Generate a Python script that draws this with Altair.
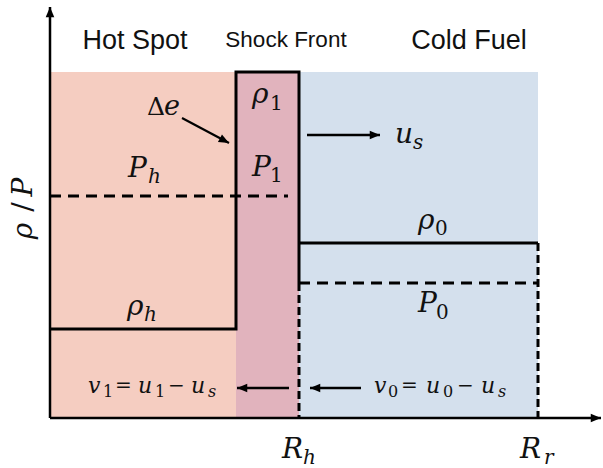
import math
import altair as alt
import pandas as pd

# ---- schematic values (radius r on x, rho / P on y) ----
r_shock_in = 3.72          # inner edge of the shock layer
R_h = 4.98                 # hot-spot radius / shock front
R_r = 9.76                 # outer fuel radius
region_top = 6.92

rho_h, rho_1, rho_0 = 1.78, 6.92, 3.50
P_h, P_0 = 4.44, 2.70
P_h_end = 4.76             # dashed P_h / P_1 level stops just short of R_h

region_names = ["Hot Spot", "Shock Front", "Cold Fuel"]
region_x0 = [0.0, r_shock_in, R_h]
region_x1 = [r_shock_in, R_h, R_r]
region_colors = ["#f5cdc1", "#e1b3bd", "#d4e0ed"]

x_axis_end, y_axis_end = 11.02, 8.22

xs = alt.Scale(domain=[-1, 11.06], range=[0, 603], nice=False, zero=False)
ys = alt.Scale(domain=[-1, 8.36], range=[468, 0], nice=False, zero=False)


def X(f="x"):
    return alt.X(f"{f}:Q", scale=xs, axis=None)


def Y(f="y"):
    return alt.Y(f"{f}:Q", scale=ys, axis=None)


# ---- shaded regions ----
regions = pd.DataFrame({
    "name": region_names, "x": region_x0, "x2": region_x1,
    "y": [0.0] * 3, "y2": [region_top] * 3,
})
fills = alt.Chart(regions).mark_rect(strokeWidth=0).encode(
    x=X(), x2="x2:Q", y=Y(), y2="y2:Q",
    color=alt.Color("name:N", scale=alt.Scale(domain=region_names, range=region_colors), legend=None),
)

# ---- density profile (solid step) ----
step = pd.DataFrame({
    "x": [0.0, r_shock_in, r_shock_in, R_h, R_h],
    "y": [rho_h, rho_h, rho_1, rho_1, P_0],
    "o": list(range(5)),
})
step_line = alt.Chart(step).mark_line(color="black", strokeWidth=3, strokeJoin="miter").encode(
    x=X(), y=Y(), order="o:O"
)

solid_segs = pd.DataFrame({"x": [R_h], "y": [rho_0], "x2": [R_r], "y2": [rho_0]})
solid_rules = alt.Chart(solid_segs).mark_rule(color="black", strokeWidth=3).encode(
    x=X(), y=Y(), x2="x2:Q", y2="y2:Q"
)

# ---- pressure levels (dashed) ----
dash_h = pd.DataFrame({"x": [0.0, R_h], "y": [P_h, P_0], "x2": [P_h_end, R_r], "y2": [P_h, P_0]})
dash_h_rules = alt.Chart(dash_h).mark_rule(color="black", strokeWidth=3, strokeDash=[11, 7]).encode(
    x=X(), y=Y(), x2="x2:Q", y2="y2:Q"
)
dash_v = pd.DataFrame({"x": [R_h, R_r], "y": [P_0, rho_0], "x2": [R_h, R_r], "y2": [0.0, 0.0]})
dash_v_rules = alt.Chart(dash_v).mark_rule(color="black", strokeWidth=3, strokeDash=[8, 4]).encode(
    x=X(), y=Y(), x2="x2:Q", y2="y2:Q"
)

# ---- arrows: axes, delta-e pointer, shock speed, flow velocities ----
arrows = pd.DataFrame({
    "name": ["x-axis", "y-axis", "de", "us", "v1", "v0"],
    "x":  [0.0, 0.0, 2.64, 5.14, 4.78, 6.22],
    "y":  [0.0, 0.0, 6.00, 5.66, 0.60, 0.60],
    "x2": [x_axis_end, 0.0, 3.58, 6.60, 3.74, 5.20],
    "y2": [0.0, y_axis_end, 5.50, 5.66, 0.60, 0.60],
    "w":  [2.5, 2.5, 2.2, 2.5, 2.5, 2.5],
})
arrows["ang"] = [
    math.degrees(math.atan2(x2 - x1, y2 - y1)) % 360
    for x1, y1, x2, y2 in zip(arrows.x, arrows.y, arrows.x2, arrows.y2)
]
arrow_lines = alt.Chart(arrows).mark_rule(color="black").encode(
    x=X(), y=Y(), x2="x2:Q", y2="y2:Q", strokeWidth=alt.StrokeWidth("w:Q", scale=None)
)
arrow_heads = alt.Chart(arrows).mark_point(
    shape="M0,0L0.42,1L-0.42,1Z", filled=True, color="black", opacity=1, size=420, strokeWidth=0
).encode(x=X("x2"), y=Y("y2"), angle=alt.Angle("ang:Q", scale=None))

# ---- region headings ----
headings = pd.DataFrame({
    "t": region_names, "x": [1.70, 4.72, 8.38], "y": [7.54, 7.56, 7.54], "fs": [27, 22.5, 27],
})
heading_text = alt.Chart(headings).mark_text(
    font="Liberation Sans", color="#111111", baseline="middle", align="center"
).encode(x=X(), y=Y(), text="t:N", size=alt.Size("fs:Q", scale=None))

# ---- math symbols, set piece by piece (base letter, then subscript) ----
# it = 1: italic letter, it = 0: upright digit / operator
pieces = [
    # rho_1
    ("ρ", 4.04, 6.30, 28, 1), ("1", 4.40, 6.16, 20, 0),
    # P_1
    ("P", 4.04, 4.84, 28, 1), ("1", 4.40, 4.72, 20, 0),
    # P_h
    ("P", 1.56, 4.82, 28, 1), ("h", 1.96, 4.70, 20, 1),
    # rho_h
    ("ρ", 1.54, 2.06, 28, 1), ("h", 1.88, 1.94, 20, 1),
    # rho_0
    ("ρ", 7.36, 3.78, 28, 1), ("0", 7.70, 3.66, 20, 0),
    # P_0
    ("P", 7.36, 2.12, 28, 1), ("0", 7.72, 1.98, 20, 0),
    # u_s
    ("u", 6.90, 5.50, 28, 1), ("s", 7.26, 5.38, 20, 1),
    # delta e
    ("Δ", 1.94, 6.06, 25, 0), ("e", 2.28, 6.06, 27, 1),
    # R_h, R_r
    ("R", 4.64, -0.80, 28, 1), ("h", 5.06, -0.92, 20, 1),
    ("R", 9.40, -0.80, 28, 1), ("r", 9.88, -0.92, 20, 1),
    # v_1 = u_1 - u_s
    ("v", 0.76, 0.50, 22, 1), ("1", 1.06, 0.42, 16, 0), ("=", 1.30, 0.52, 20, 0),
    ("u", 1.76, 0.50, 22, 1), ("1", 2.10, 0.42, 16, 0), ("−", 2.36, 0.52, 20, 0),
    ("u", 2.82, 0.50, 22, 1), ("s", 3.16, 0.42, 16, 1),
    # v_0 = u_0 - u_s
    ("v", 6.48, 0.50, 22, 1), ("0", 6.76, 0.42, 16, 0), ("=", 7.02, 0.52, 20, 0),
    ("u", 7.52, 0.50, 22, 1), ("0", 7.86, 0.42, 16, 0), ("−", 8.14, 0.52, 20, 0),
    ("u", 8.62, 0.50, 22, 1), ("s", 8.96, 0.42, 16, 1),
]
sym = pd.DataFrame(pieces, columns=["t", "x", "y", "fs", "it"])


def sym_layer(italic):
    return alt.Chart(sym).transform_filter(alt.datum.it == (1 if italic else 0)).mark_text(
        font="DejaVu Serif", fontStyle="italic" if italic else "normal",
        color="#111111", baseline="alphabetic", align="left",
    ).encode(x=X(), y=Y(), text="t:N", size=alt.Size("fs:Q", scale=None))


# ---- vertical quantity label rho / P ----
ylab = pd.DataFrame({"t": ["ρ", "/", "P"], "x": [-0.36] * 3, "y": [3.74, 4.22, 4.62], "it": [1, 0, 1]})


def ylab_layer(italic):
    return alt.Chart(ylab).transform_filter(alt.datum.it == (1 if italic else 0)).mark_text(
        font="DejaVu Serif", fontStyle="italic" if italic else "normal", color="#111111",
        fontSize=28, angle=270, baseline="alphabetic", align="center",
    ).encode(x=X(), y=Y(), text="t:N")


chart = alt.layer(
    fills, dash_h_rules, dash_v_rules, step_line, solid_rules,
    arrow_lines, arrow_heads, heading_text,
    sym_layer(True), sym_layer(False), ylab_layer(True), ylab_layer(False),
).properties(
    width=603, height=468, autosize=alt.AutoSizeParams(type="none"), padding=0, background="white"
).configure_view(strokeWidth=0)

chart.save("out.html", embed_options={"renderer": "svg", "actions": False})
